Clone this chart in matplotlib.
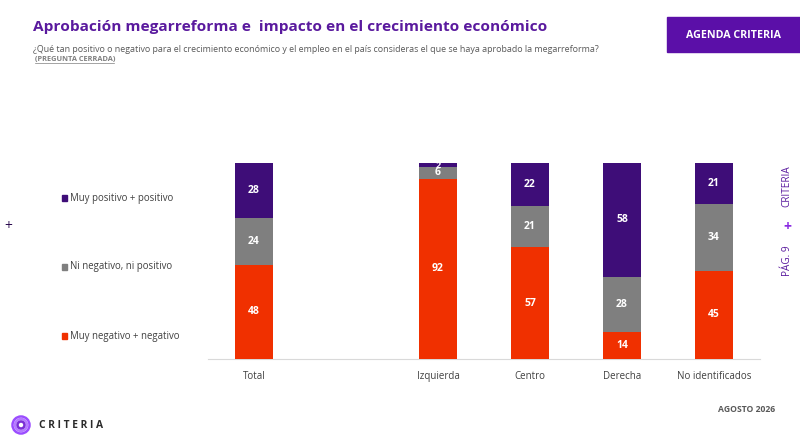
import numpy as np
import matplotlib.pyplot as plt
from matplotlib.patches import Rectangle, Ellipse

# datos
categorias = ['Total', 'Izquierda', 'Centro', 'Derecha', 'No identificados']
posiciones = [0, 2, 3, 4, 5]
muy_negativo = [48, 92, 57, 14, 45]
ni_ni = [24, 6, 21, 28, 34]
muy_positivo = [28, 2, 22, 58, 21]
series = ['Muy negativo + negativo', 'Ni negativo, ni positivo', 'Muy positivo + positivo']

morado = '#3e0d78'
gris = '#7f7f7f'
rojo = '#f03000'
morado_titulo = '#5a1a9e'

plt.rcParams['font.family'] = ['Open Sans', 'DejaVu Sans']

fig = plt.figure(figsize=(8, 4.41), dpi=100)
ax = fig.add_axes([0.26, 0.186, 0.69, 0.444])

ancho = 0.41
base = np.zeros(len(categorias))
for valores, color in [(muy_negativo, rojo), (ni_ni, gris), (muy_positivo, morado)]:
    valores = np.array(valores)
    ax.bar(posiciones, valores, width=ancho, bottom=base, color=color, zorder=3)
    for x, v, b in zip(posiciones, valores, base):
        # etiquetas de segmentos muy pequeños algo menores
        fs = 6.5 if v < 5 else 7.5
        ax.text(x, b + v / 2, str(v), ha='center', va='center', color='white',
                fontsize=fs, fontweight='bold', zorder=4)
    base = base + valores

ax.set_xlim(-0.5, 5.5)
ax.set_ylim(0, 100)
ax.set_xticks(posiciones)
ax.set_xticklabels(categorias, fontsize=7, color='#404040')
ax.tick_params(axis='x', length=0, pad=9)
ax.set_yticks([])
for s in ['top', 'right', 'left']:
    ax.spines[s].set_visible(False)
ax.spines['bottom'].set_color('#d9d9d9')
ax.spines['bottom'].set_linewidth(0.8)

# leyenda manual a la izquierda
for texto, color, y in [(series[2], morado, 198), (series[1], gris, 267), (series[0], rojo, 336)]:
    fy = 1 - y / 441
    fig.patches.append(Rectangle((62 / 800, fy - 3 / 441), 5 / 800, 6 / 441,
                                 transform=fig.transFigure, color=color))
    fig.text(70 / 800, fy, texto, fontsize=6.9, color='#404040', va='center', ha='left')

# titulo
fig.text(33 / 800, 1 - 27 / 441, 'Aprobación megarreforma e  impacto en el crecimiento económico',
         fontsize=11.1, fontweight='bold', color=morado_titulo, va='center', ha='left')
fig.text(33 / 800, 1 - 50 / 441,
         '¿Qué tan positivo o negativo para el crecimiento económico y el empleo en el país consideras el que se haya aprobado la megarreforma?',
         fontsize=6.4, color='#595959', va='center', ha='left')
fig.text(35 / 800, 1 - 59 / 441, '(PREGUNTA CERRADA)', fontsize=5.3, fontweight='bold',
         color='#7f7f7f', va='center', ha='left')
fig.lines.append(plt.Line2D([35 / 800, 114 / 800], [1 - 63 / 441, 1 - 63 / 441],
                            transform=fig.transFigure, color='#7f7f7f', lw=0.5))

# caja superior derecha
fig.patches.append(Rectangle((667 / 800, 1 - 52 / 441), 133 / 800, 35 / 441,
                             transform=fig.transFigure, color='#5b0fa8'))
fig.text(734 / 800, 1 - 35 / 441, 'AGENDA CRITERIA', fontsize=7.7, fontweight='bold',
         color='white', va='center', ha='center')

# marcas laterales
fig.text(8 / 800, 1 - 227 / 441, '+', fontsize=10, color='#2b0b4f', va='center', ha='center')
fig.text(787 / 800, 1 - 186 / 441, 'CRITERIA', fontsize=7.2, color='#5a1a9e', rotation=90,
         va='center', ha='center')
fig.text(787 / 800, 1 - 227 / 441, '+', fontsize=10, color='#8a2be2', va='center', ha='center',
         fontweight='bold')
fig.text(787 / 800, 1 - 261 / 441, 'PÁG. 9', fontsize=7.2, color='#5a1a9e', rotation=90,
         va='center', ha='center')

# pie
fig.text(775 / 800, 1 - 409 / 441, 'AGOSTO 2026', fontsize=6.2, fontweight='bold',
         color='#595959', va='center', ha='right')

# logo
cx, cy = 21 / 800, 1 - 425 / 441
for r, c in [(8.5, '#9b4dff'), (6, '#b57bff'), (3.5, '#7a2fd6')]:
    fig.patches.append(Ellipse((cx, cy), 2 * r / 800, 2 * r / 441, transform=fig.transFigure,
                               fill=False, edgecolor=c, lw=1.8))
fig.text(39 / 800, cy, 'C R I T E R I A', fontsize=7.4, fontweight='bold', color='#2b2b2b',
         va='center', ha='left')

fig.savefig('out.png', dpi=100)
